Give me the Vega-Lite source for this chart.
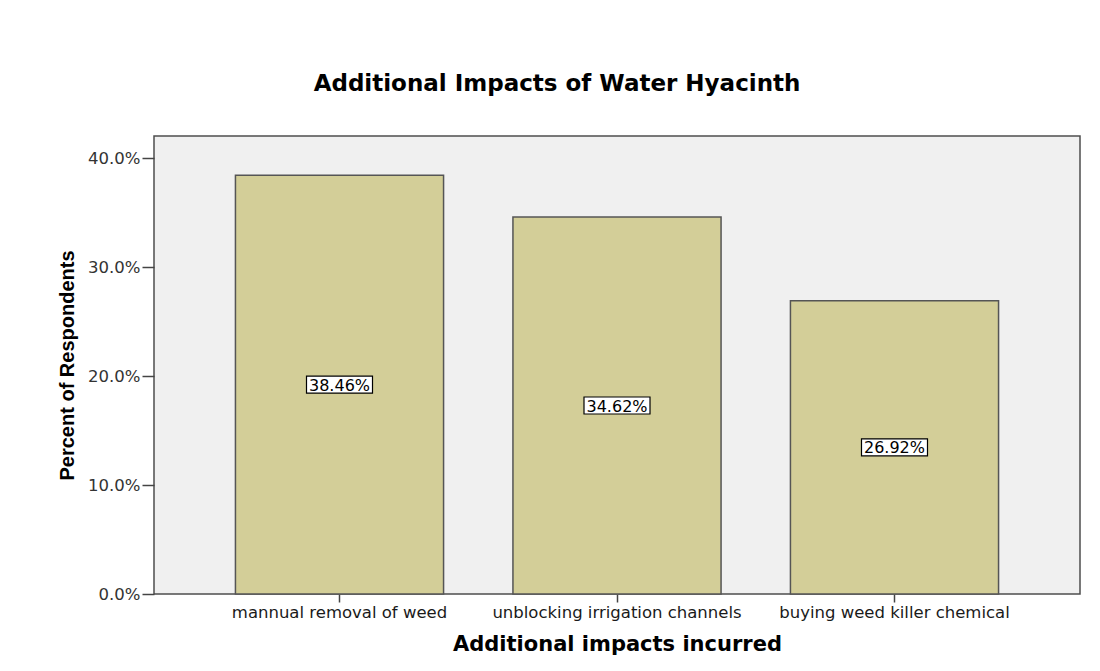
{
  "$schema": "https://vega.github.io/schema/vega-lite/v6.json",
  "width": 926,
  "height": 458,
  "autosize": {"type": "none"},
  "padding": {"left": 154, "top": 136, "right": 20, "bottom": 77},
  "background": "white",
  "title": {
    "text": "Additional Impacts of Water Hyacinth",
    "font": "DejaVu Sans",
    "fontSize": 23,
    "fontWeight": "bold",
    "color": "#000000",
    "anchor": "middle",
    "dx": -60,
    "offset": 40
  },
  "data": {
    "values": [
      {"impact": "mannual removal of weed", "share": 0.3846},
      {"impact": "unblocking irrigation channels", "share": 0.3462},
      {"impact": "buying weed killer chemical", "share": 0.2692}
    ]
  },
  "encoding": {
    "x": {
      "field": "impact",
      "type": "nominal",
      "sort": null,
      "scale": {"paddingInner": 0.25, "paddingOuter": 0.2935},
      "title": "Additional impacts incurred",
      "axis": {
        "labelAngle": 0,
        "labelLimit": 0,
        "domain": false,
        "tickSize": 8,
        "tickColor": "#444444",
        "tickWidth": 1.5,
        "labelFont": "DejaVu Sans",
        "labelFontSize": 16.5,
        "labelColor": "#1a1a1a",
        "labelPadding": 2,
        "titleFont": "DejaVu Sans",
        "titleFontSize": 21,
        "titleFontWeight": "bold",
        "titleColor": "#000000",
        "titlePadding": 13
      }
    }
  },
  "layer": [
    {
      "mark": {"type": "bar", "fill": "#d3ce98", "stroke": "#555555", "strokeWidth": 1.5},
      "encoding": {
        "y": {
          "field": "share",
          "type": "quantitative",
          "scale": {"domain": [0, 0.4206], "nice": false},
          "title": "Percent of Respondents",
          "axis": {
            "values": [0, 0.1, 0.2, 0.3, 0.4],
            "format": ".1%",
            "grid": false,
            "domain": false,
            "tickSize": 12,
            "tickColor": "#444444",
            "tickWidth": 1.5,
            "labelFont": "DejaVu Sans",
            "labelFontSize": 16.5,
            "labelColor": "#333333",
            "labelPadding": 2,
            "titleFont": "Liberation Sans",
            "titleFontSize": 20,
            "titleFontWeight": "bold",
            "titleColor": "#000000",
            "titlePadding": 10
          }
        }
      }
    },
    {
      "encoding": {
        "y": {
          "field": "share",
          "type": "quantitative",
          "scale": {"domain": [0, 0.8412], "nice": false},
          "axis": null
        }
      },
      "layer": [
        {
          "mark": {
            "type": "point",
            "shape": "M-1,-0.2576H1V0.2576H-1Z",
            "filled": true,
            "fill": "#ffffff",
            "stroke": "#000000",
            "strokeWidth": 1.2,
            "opacity": 1,
            "size": 4356
          }
        },
        {
          "mark": {"type": "text", "font": "DejaVu Sans", "fontSize": 16, "color": "#000000", "dy": 1},
          "encoding": {
            "text": {"field": "share", "type": "quantitative", "format": ".2%"}
          }
        }
      ]
    }
  ],
  "resolve": {"scale": {"y": "independent"}},
  "config": {
    "view": {"fill": "#f0f0f0", "stroke": "#4d4d4d", "strokeWidth": 1.5}
  }
}
